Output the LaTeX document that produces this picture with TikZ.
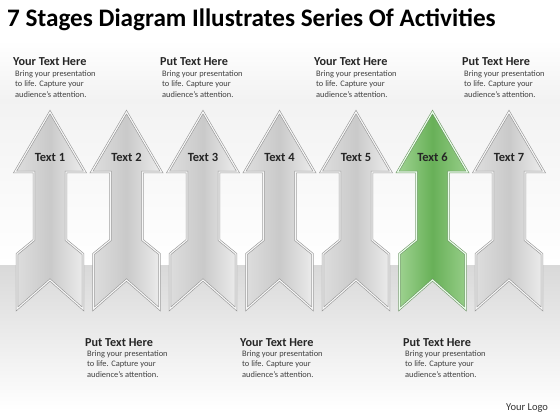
\documentclass[tikz,border=0pt]{standalone}
\usepackage{fontspec}
\setmainfont{Carlito}
\definecolor{edgegray}{RGB}{150,150,150}
\definecolor{leafgreen}{RGB}{104,176,88}
\definecolor{palegreen}{RGB}{160,212,146}
\definecolor{edgegreen}{RGB}{112,150,104}
\begin{document}
\begin{tikzpicture}[x=1pt,y=-1pt,
  stage/.style={draw=edgegray,line width=0.6pt,double=gray!6,double distance=1.1pt,line join=miter,
    left color=gray!26,right color=gray!14,middle color=gray!42},
  stagegreen/.style={draw=edgegreen,line width=0.6pt,double=green!8!white,double distance=1.1pt,line join=miter,
    left color=palegreen,right color=palegreen!85!leafgreen,middle color=leafgreen},
  lbl/.style={font=\bfseries\fontsize{12.5}{14}\selectfont,text=black!85},
  head/.style={anchor=base west,inner sep=0pt,font=\bfseries\fontsize{12.2}{14}\selectfont,text=black!85},
  body/.style={anchor=north west,inner sep=0pt,align=left,font=\fontsize{8.4}{10.6}\selectfont,text=black!75}]
  \useasboundingbox (0,0) rectangle (560,420);
  \fill[white] (0,0) rectangle (560,420);
  \shade[top color=white,bottom color=gray!10] (0,40) rectangle (560,100);
  \shade[top color=gray!10,bottom color=white] (0,100) rectangle (560,265);
  \shade[top color=gray!30,bottom color=white] (0,265) rectangle (560,410);

  \node[anchor=base west,inner sep=0pt,font=\bfseries\fontsize{25.2}{28}\selectfont] (title) at (7,27)
    {7 Stages Diagram Illustrates Series Of Activities};

  \foreach \n in {1,...,7}{
    \pgfmathsetmacro{\cx}{50+76.5*(\n-1)}
    \ifnum\n=6 \def\look{stagegreen}\else \def\look{stage}\fi
    \begin{scope}[shift={(\cx,0)}]
    \path[\look] (0,112) -- (35,172) -- (16,172) -- (16,240) -- (33,254) -- (33,309)
      -- (0,280) -- (-33,309) -- (-33,254) -- (-16,240) -- (-16,172) -- (-35,172) -- cycle;
    \node[lbl] (text\n) at (0,157) {Text \n};
    \end{scope}
  }

  \node[head] (h1) at (13,66) {Your Text Here};
  \node[body] (b1) at (15,70) {Bring your presentation\\to life. Capture your\\audience’s attention.};
  \node[head] (h2) at (160,66) {Put Text Here};
  \node[body] (b2) at (162,70) {Bring your presentation\\to life. Capture your\\audience’s attention.};
  \node[head] (h3) at (314,66) {Your Text Here};
  \node[body] (b3) at (316,70) {Bring your presentation\\to life. Capture your\\audience’s attention.};
  \node[head] (h4) at (462,66) {Put Text Here};
  \node[body] (b4) at (464,70) {Bring your presentation\\to life. Capture your\\audience’s attention.};

  \node[head] (h5) at (85,346) {Put Text Here};
  \node[body] (b5) at (87,350) {Bring your presentation\\to life. Capture your\\audience’s attention.};
  \node[head] (h6) at (240,346) {Your Text Here};
  \node[body] (b6) at (242,350) {Bring your presentation\\to life. Capture your\\audience’s attention.};
  \node[head] (h7) at (403,346) {Put Text Here};
  \node[body] (b7) at (405,350) {Bring your presentation\\to life. Capture your\\audience’s attention.};

  \node[anchor=base west,inner sep=0pt,font=\fontsize{10.5}{12}\selectfont,text=black!80] (logo) at (506,410) {Your Logo};
\end{tikzpicture}
\end{document}
